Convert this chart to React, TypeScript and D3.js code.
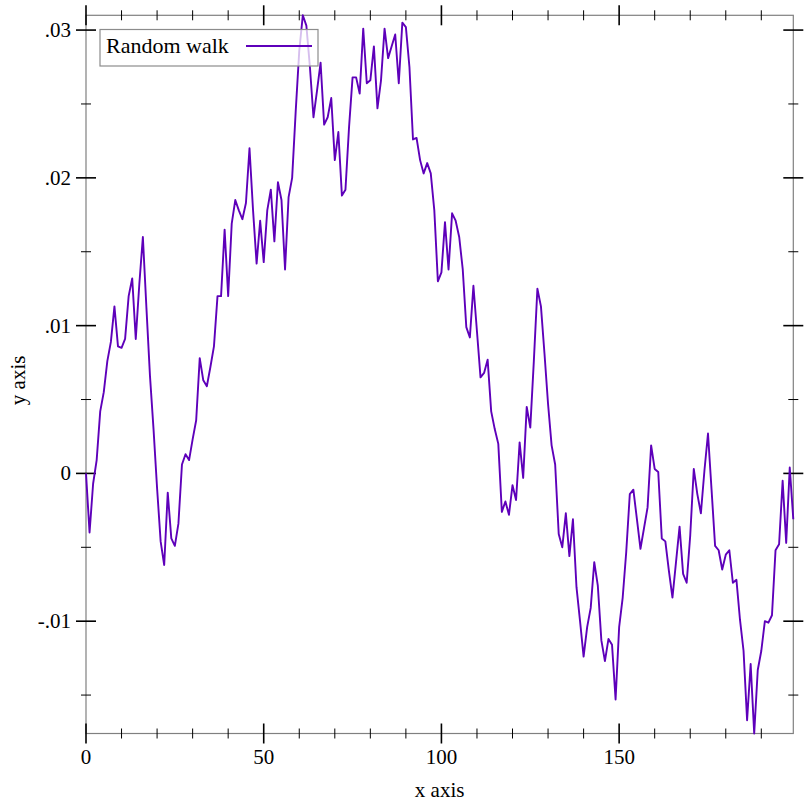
import React, { useEffect, useRef } from 'react'
import * as d3 from 'd3'

// random walk samples, x = 0..199
const walk_values = [
    0, -0.004, -0.0007, 0.0009, 0.0042, 0.0055, 0.0076, 0.0089, 0.0113, 0.0086,
    0.0085, 0.0091, 0.012, 0.0132, 0.0091, 0.0128, 0.016, 0.0112, 0.0066, 0.003,
    -0.001, -0.0046, -0.0062, -0.0013, -0.0044, -0.0049, -0.0034, 0.0006, 0.0013, 0.0009,
    0.0023, 0.0036, 0.0078, 0.0063, 0.0059, 0.0072, 0.0086, 0.012, 0.012, 0.0165,
    0.012, 0.0169, 0.0185, 0.0178, 0.0172, 0.0183, 0.022, 0.0178, 0.0142, 0.0171,
    0.0143, 0.0178, 0.0192, 0.0157, 0.0197, 0.0185, 0.0138, 0.0187, 0.02, 0.0245,
    0.0286, 0.031, 0.0303, 0.0275, 0.0241, 0.0259, 0.0278, 0.0236, 0.0241, 0.0254,
    0.0212, 0.0231, 0.0188, 0.0192, 0.0234, 0.0268, 0.0268, 0.0257, 0.0301, 0.0264,
    0.0266, 0.0289, 0.0247, 0.0266, 0.0301, 0.0281, 0.0289, 0.0297, 0.0264, 0.0305,
    0.0302, 0.0275, 0.0226, 0.0227, 0.0212, 0.0203, 0.021, 0.0203, 0.0178, 0.013,
    0.0136, 0.017, 0.0138, 0.0176, 0.0171, 0.016, 0.0138, 0.0099, 0.0092, 0.0127,
    0.0096, 0.0065, 0.0068, 0.0077, 0.0042, 0.003, 0.002, -0.0026, -0.0019, -0.0028,
    -0.0008, -0.0018, 0.0021, -0.0003, 0.0045, 0.0031, 0.0076, 0.0125, 0.0113, 0.0081,
    0.0047, 0.0019, 0.0006, -0.0041, -0.005, -0.0027, -0.0056, -0.0031, -0.0077, -0.01,
    -0.0124, -0.0104, -0.0091, -0.006, -0.0076, -0.0113, -0.0127, -0.0112, -0.0116, -0.0153,
    -0.0104, -0.0084, -0.0053, -0.0014, -0.0011, -0.0031, -0.0051, -0.0037, -0.0023, 0.0019,
    0.0003, 0.0001, -0.0044, -0.0046, -0.0066, -0.0084, -0.006, -0.0036, -0.0068, -0.0074,
    -0.0042, 0.0003, -0.0014, -0.0027, 0.0002, 0.0027, -0.0011, -0.0049, -0.0052, -0.0065,
    -0.0055, -0.0052, -0.0074, -0.0072, -0.0099, -0.012, -0.0167, -0.0129, -0.0176, -0.0133,
    -0.012, -0.01, -0.0101, -0.0096, -0.0052, -0.0048, -0.0005, -0.0047, 0.0004, -0.0031
]
const walk_x = walk_values.map((_, i) => i)

const x_major_ticks = [0, 50, 100, 150]
const x_tick_labels = ['0', '50', '100', '150']
const y_major_ticks = [-0.01, 0, 0.01, 0.02, 0.03]
const y_tick_labels = ['-.01', '0', '.01', '.02', '.03']

const series_label = 'Random walk'
const x_label = 'x axis'
const y_label = 'y axis'

const LAYOUT = { width: 812, height: 812, left: 86, right: 793.3, top: 15.3, bottom: 733.5 }
const FONT = '"Liberation Serif", "Times New Roman", serif'
const LINE_COLOR = 'rgb(94, 0, 186)'

const create = (el: SVGSVGElement) => {
    const svg = d3.select(el)
    svg.selectAll('*').remove()

    const x_axis = d3.scaleLinear().domain(d3.extent(walk_x) as [number, number]).range([LAYOUT.left, LAYOUT.right])
    const y_axis = d3.scaleLinear().domain(d3.extent(walk_values) as [number, number]).range([LAYOUT.bottom, LAYOUT.top])

    // minor ticks every 10 on x, every .005 on y
    const x_minor = d3.range(0, 200, 10).filter(v => !x_major_ticks.includes(v))
    const y_minor = d3.range(-0.015, 0.031, 0.005).filter(v => !y_major_ticks.some(m => Math.abs(m - v) < 1e-9))

    // plot frame
    svg.append('rect')
        .attr('x', LAYOUT.left)
        .attr('y', LAYOUT.top)
        .attr('width', LAYOUT.right - LAYOUT.left)
        .attr('height', LAYOUT.bottom - LAYOUT.top)
        .attr('fill', 'none')
        .attr('stroke', '#808080')
        .attr('stroke-width', 1.2)

    const ticks = svg.append('g').attr('stroke', '#000').attr('stroke-width', 1)
    const x_tick = (v: number, half: number, w: number) => {
        ;[LAYOUT.bottom, LAYOUT.top].forEach(y0 => {
            ticks.append('line')
                .attr('x1', x_axis(v)).attr('x2', x_axis(v))
                .attr('y1', y0 - half).attr('y2', y0 + half)
                .attr('stroke-width', w)
        })
    }
    const y_tick = (v: number, half: number, w: number) => {
        ;[LAYOUT.left, LAYOUT.right].forEach(x0 => {
            ticks.append('line')
                .attr('x1', x0 - half).attr('x2', x0 + half)
                .attr('y1', y_axis(v)).attr('y2', y_axis(v))
                .attr('stroke-width', w)
        })
    }
    x_major_ticks.forEach(v => x_tick(v, 10, 1.6))
    x_minor.forEach(v => x_tick(v, 5, 1))
    y_major_ticks.forEach(v => y_tick(v, 10, 1.6))
    y_minor.forEach(v => y_tick(v, 5, 1))

    // tick labels
    svg.selectAll('text.xlab')
        .data(x_major_ticks)
        .join('text')
        .attr('class', 'xlab')
        .attr('x', d => x_axis(d))
        .attr('y', 764)
        .attr('text-anchor', 'middle')
        .attr('font-family', FONT)
        .attr('font-size', 21)
        .text((d, i) => x_tick_labels[i])

    svg.selectAll('text.ylab')
        .data(y_major_ticks)
        .join('text')
        .attr('class', 'ylab')
        .attr('x', LAYOUT.left - 15)
        .attr('y', d => y_axis(d) + 7)
        .attr('text-anchor', 'end')
        .attr('font-family', FONT)
        .attr('font-size', 21)
        .text((d, i) => y_tick_labels[i])

    // axis titles
    svg.append('text')
        .attr('x', (LAYOUT.left + LAYOUT.right) / 2)
        .attr('y', 797)
        .attr('text-anchor', 'middle')
        .attr('font-family', FONT)
        .attr('font-size', 21)
        .text(x_label)

    svg.append('text')
        .attr('transform', `translate(25, ${(LAYOUT.top + LAYOUT.bottom) / 2 + 6}) rotate(-90)`)
        .attr('text-anchor', 'middle')
        .attr('font-family', FONT)
        .attr('font-size', 21)
        .text(y_label)

    // the walk itself
    const line = d3.line<number>()
        .x((d, i) => x_axis(walk_x[i]))
        .y(d => y_axis(d))
    svg.append('path')
        .datum(walk_values)
        .attr('d', line)
        .attr('fill', 'none')
        .attr('stroke', LINE_COLOR)
        .attr('stroke-width', 1.9)
        .attr('stroke-linejoin', 'round')

    // legend, semi-transparent so the walk shows through
    const legend = svg.append('g')
    legend.append('rect')
        .attr('x', 100)
        .attr('y', 29.5)
        .attr('width', 218)
        .attr('height', 36.5)
        .attr('fill', 'white')
        .attr('fill-opacity', 0.75)
        .attr('stroke', '#8c8c8c')
        .attr('stroke-width', 1.2)
    legend.append('text')
        .attr('x', 106)
        .attr('y', 52.5)
        .attr('font-family', FONT)
        .attr('font-size', 22)
        .text(series_label)
    legend.append('line')
        .attr('x1', 246).attr('x2', 312)
        .attr('y1', 46).attr('y2', 46)
        .attr('stroke', LINE_COLOR)
        .attr('stroke-width', 1.9)
}

export default function App() {
    const ref = useRef<SVGSVGElement>(null)
    useEffect(() => {
        if (ref.current) create(ref.current)
    }, [])
    return (
        <svg
            ref={ref}
            width={LAYOUT.width}
            height={LAYOUT.height}
            style={{ position: 'absolute', left: 0, top: 0, background: 'white' }}
        />
    )
}
